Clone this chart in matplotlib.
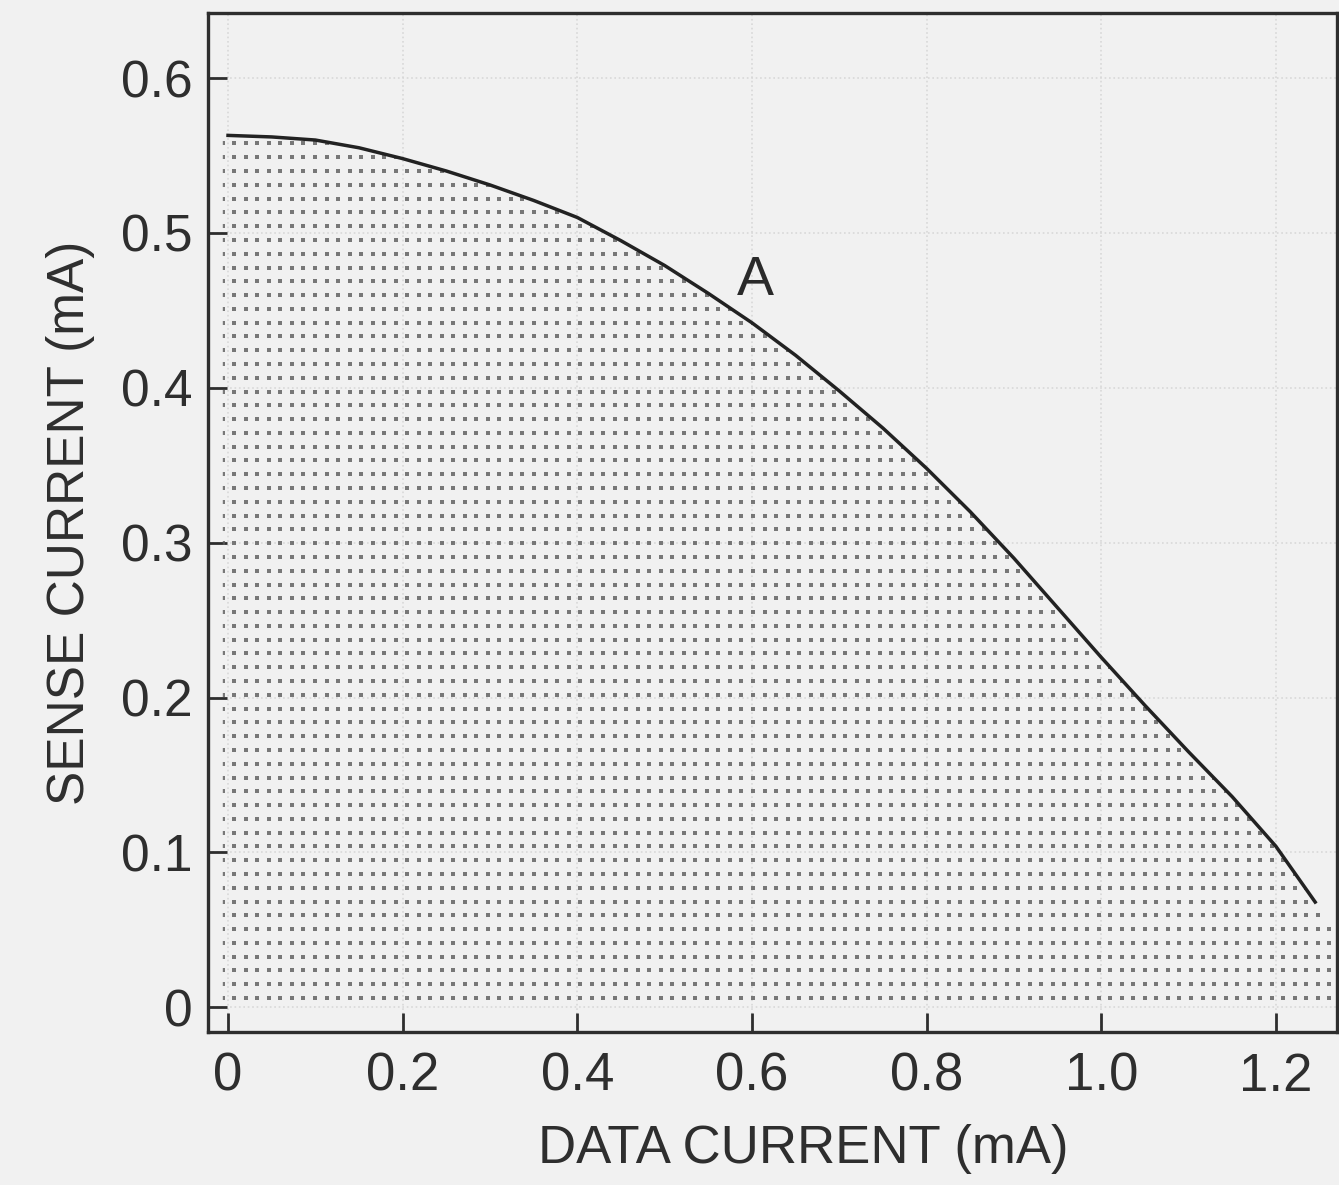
import numpy as np
import matplotlib.pyplot as plt
from matplotlib.patches import Polygon

# data current (mA) vs sense current (mA), curve A
data_current = np.array([0.0, 0.05, 0.1, 0.15, 0.2, 0.25, 0.3, 0.35, 0.4, 0.45, 0.5, 0.55, 0.6,
                         0.65, 0.7, 0.75, 0.8, 0.85, 0.9, 0.95, 1.0, 1.05, 1.1, 1.15, 1.2, 1.245])
sense_current = np.array([0.563, 0.562, 0.560, 0.555, 0.548, 0.540, 0.531, 0.521, 0.510, 0.495,
                          0.479, 0.461, 0.442, 0.421, 0.398, 0.374, 0.348, 0.320, 0.290, 0.258,
                          0.226, 0.195, 0.165, 0.136, 0.104, 0.068])

x_ticks = [0, 0.2, 0.4, 0.6, 0.8, 1.0, 1.2]
x_labels = ['0', '0.2', '0.4', '0.6', '0.8', '1.0', '1.2']
y_ticks = [0, 0.1, 0.2, 0.3, 0.4, 0.5, 0.6]
y_labels = ['0', '0.1', '0.2', '0.3', '0.4', '0.5', '0.6']

plt.rcParams['font.family'] = ['Liberation Sans', 'DejaVu Sans']
bg = '#f1f1f1'
ink = '#2e2e2e'

fig = plt.figure(figsize=(13.39, 11.85), dpi=100, facecolor=bg)
ax = fig.add_axes([0.1553, 0.129, 0.8432, 0.860])
ax.set_facecolor(bg)
ax.set_xlim(-0.023, 1.270)
ax.set_ylim(-0.016, 0.642)

# faint dotted grid left over in the scan
ax.grid(True, linestyle=':', color='#d8d8d8', linewidth=1.2)
ax.set_axisbelow(True)

# dotted shading under the curve (extends to the right frame)
xmax = ax.get_xlim()[1]
slope = (sense_current[-1] - sense_current[-2]) / (data_current[-1] - data_current[-2])
y_edge = sense_current[-1] + slope * (xmax - data_current[-1])
poly_x = np.concatenate([[-0.006], data_current, [xmax, xmax, -0.006]])
poly_y = np.concatenate([[sense_current[0]], sense_current, [y_edge, 0.004, 0.004]])
clip = Polygon(np.column_stack([poly_x, poly_y]), closed=True, transform=ax.transData,
               facecolor='none', edgecolor='none')
ax.add_patch(clip)
gx, gy = np.meshgrid(np.arange(-0.006, xmax, 0.0132), np.arange(0.006, 0.6, 0.0089))
dots = ax.scatter(gx.ravel(), gy.ravel(), s=8, marker='s', color='#5a5a5a',
                  linewidths=0, alpha=0.8)
dots.set_clip_path(clip)

ax.plot(data_current, sense_current, color='#222222', linewidth=2.5)
ax.text(0.604, 0.469, 'A', fontsize=40, color='#2a2a2a', ha='center', va='center')

ax.set_xticks(x_ticks)
ax.set_xticklabels(x_labels)
ax.set_yticks(y_ticks)
ax.set_yticklabels(y_labels)
ax.tick_params(axis='both', direction='in', length=14, width=2, colors=ink)
ax.tick_params(axis='x', labelsize=38, pad=14)
ax.tick_params(axis='y', labelsize=37, pad=11)
for s in ax.spines.values():
    s.set_linewidth(2.4)
    s.set_color(ink)

ax.set_xlabel('DATA CURRENT (mA)', fontsize=38, color=ink, labelpad=16, x=0.527)
ax.set_ylabel('SENSE CURRENT (mA)', fontsize=37, color=ink, labelpad=19)

fig.savefig('out.png', dpi=100, facecolor=fig.get_facecolor())
